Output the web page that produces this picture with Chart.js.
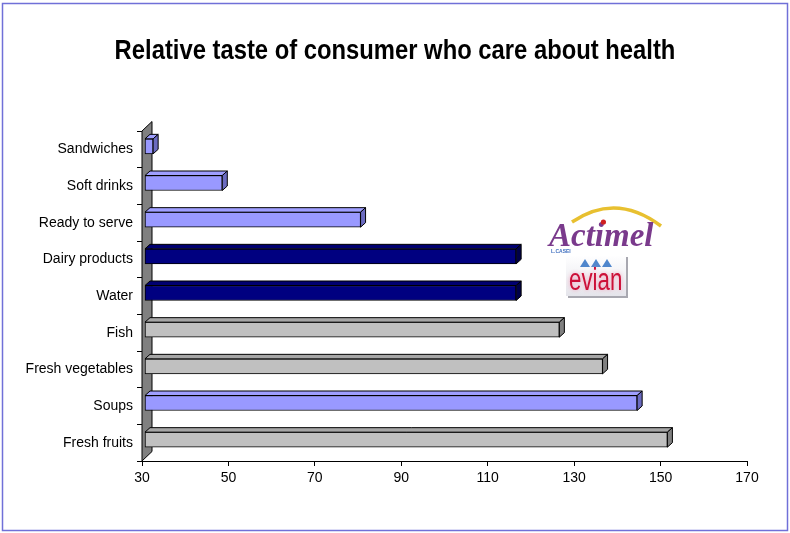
<!DOCTYPE html>
<html>
<head>
<meta charset="utf-8">
<script src="https://cdn.jsdelivr.net/npm/chart.js@4.4.0/dist/chart.umd.min.js"></script>
<style>
  html, body { margin: 0; padding: 0; background: #fff; }
  #wrap { position: relative; width: 790px; height: 533px; }
</style>
</head>
<body>
<div id="wrap"><canvas id="grafico" width="790" height="533"></canvas></div>
<script>
// Datos del gráfico
const titulo = 'Relative taste of consumer who care about health';
const categorias = ['Sandwiches', 'Soft drinks', 'Ready to serve', 'Dairy products', 'Water', 'Fish', 'Fresh vegetables', 'Soups', 'Fresh fruits'];
const valores = [32, 48, 80, 116, 116, 126, 136, 144, 151];
const coloresBarra = ['#9999FF', '#9999FF', '#9999FF', '#000080', '#000080', '#C0C0C0', '#C0C0C0', '#9999FF', '#C0C0C0'];
const ejeMin = 30;
const ejeMax = 170;
const paso = 20;

const fuente = "'Liberation Sans', Arial, sans-serif";

// Caras superior y lateral de cada color (efecto 3D)
const sombras = {
    '#9999FF': { arriba: '#9f9fff', lado: '#6b6bc0' },
    '#000080': { arriba: '#000070', lado: '#000048' },
    '#C0C0C0': { arriba: '#a6a6a6', lado: '#808080' }
};

const prof = { dx: 5, dy: 4.5 };      // profundidad de la barra
const frente = { dx: 2.5, dy: -3 };   // desplazamiento del plano de las barras
const pared = { dx: 10, dy: 9.5 };    // profundidad de la pared

const plugin3D = {
    id: 'barras3d',
    beforeDatasetsDraw(chart) {
        const { ctx, chartArea } = chart;
        // pared gris del eje de categorías
        ctx.save();
        ctx.beginPath();
        ctx.moveTo(chartArea.left, chartArea.top);
        ctx.lineTo(chartArea.left + pared.dx, chartArea.top - pared.dy);
        ctx.lineTo(chartArea.left + pared.dx, chartArea.bottom - pared.dy);
        ctx.lineTo(chartArea.left, chartArea.bottom);
        ctx.closePath();
        ctx.fillStyle = '#808080';
        ctx.fill();
        ctx.strokeStyle = '#000';
        ctx.lineWidth = 1;
        ctx.stroke();
        ctx.restore();

        ctx.save();
        ctx.translate(frente.dx, frente.dy);
    },
    afterDatasetsDraw(chart) {
        const { ctx } = chart;
        const meta = chart.getDatasetMeta(0);
        meta.data.forEach((bar, i) => {
            const x0 = bar.base, x1 = bar.x;
            const yA = bar.y - bar.height / 2, yB = bar.y + bar.height / 2;
            const col = sombras[coloresBarra[i]];
            ctx.lineWidth = 1;
            ctx.strokeStyle = '#000';
            // cara superior
            ctx.beginPath();
            ctx.moveTo(x0, yA);
            ctx.lineTo(x0 + prof.dx, yA - prof.dy);
            ctx.lineTo(x1 + prof.dx, yA - prof.dy);
            ctx.lineTo(x1, yA);
            ctx.closePath();
            ctx.fillStyle = col.arriba;
            ctx.fill();
            ctx.stroke();
            // cara lateral
            ctx.beginPath();
            ctx.moveTo(x1, yA);
            ctx.lineTo(x1 + prof.dx, yA - prof.dy);
            ctx.lineTo(x1 + prof.dx, yB - prof.dy);
            ctx.lineTo(x1, yB);
            ctx.closePath();
            ctx.fillStyle = col.lado;
            ctx.fill();
            ctx.stroke();
        });
        ctx.restore();
    }
};

// Título, logos de marcas y borde exterior
const pluginDecoracion = {
    id: 'decoracion',
    afterDraw(chart) {
        const { ctx } = chart;
        ctx.save();
        ctx.textBaseline = 'alphabetic';

        // título (letra estrecha)
        ctx.save();
        ctx.translate(395, 59);
        ctx.scale(0.85, 1);
        ctx.font = "bold 28px " + fuente;
        ctx.fillStyle = '#000';
        ctx.textAlign = 'center';
        ctx.fillText(titulo, 0, 0);
        ctx.restore();

        // Actimel
        ctx.beginPath();
        ctx.moveTo(572, 222);
        ctx.quadraticCurveTo(616, 192, 661, 226);
        ctx.lineWidth = 3.5;
        ctx.strokeStyle = '#e8c030';
        ctx.stroke();
        ctx.font = "italic bold 33px 'Liberation Serif', 'DejaVu Serif', serif";
        ctx.fillStyle = '#7a3a8c';
        ctx.fillText('Actimel', 549, 246);
        const xi = 549 + ctx.measureText('Act').width + ctx.measureText('i').width / 2 + 4;
        ctx.beginPath();
        ctx.arc(xi, 222, 2.6, 0, Math.PI * 2);
        ctx.fillStyle = '#d02020';
        ctx.fill();
        ctx.font = "bold 5px 'Liberation Sans', sans-serif";
        ctx.fillStyle = '#4070c0';
        ctx.fillText('L.CASEI', 551, 253);

        // evian
        const g = ctx.createLinearGradient(566, 255, 566, 297);
        g.addColorStop(0, '#ffffff');
        g.addColorStop(1, '#e4e4ea');
        ctx.fillStyle = '#a8a8b0';
        ctx.fillRect(568, 257, 60, 41);
        ctx.fillStyle = g;
        ctx.fillRect(566, 255, 60, 41);
        ctx.fillStyle = '#4f86cc';
        [[585, 267], [596, 267], [607, 267]].forEach(([x, y]) => {
            ctx.beginPath();
            ctx.moveTo(x - 5, y);
            ctx.lineTo(x, y - 8);
            ctx.lineTo(x + 5, y);
            ctx.closePath();
            ctx.fill();
        });
        ctx.save();
        ctx.translate(569, 290);
        ctx.scale(0.72, 1);
        ctx.shadowColor = 'rgba(240,150,180,0.9)';
        ctx.shadowBlur = 4;
        ctx.font = "31px 'Liberation Sans', sans-serif";
        ctx.fillStyle = '#cc1038';
        ctx.fillText('evian', 0, 0);
        ctx.restore();

        // borde del gráfico
        ctx.lineWidth = 1.5;
        ctx.strokeStyle = '#7070d8';
        ctx.strokeRect(2.5, 3.5, 785, 527);
        ctx.restore();
    }
};

const ctx = document.getElementById('grafico').getContext('2d');
new Chart(ctx, {
    type: 'bar',
    data: {
        labels: categorias,
        datasets: [{
            label: 'Relative taste',
            data: valores,
            base: ejeMin,
            clip: false,
            backgroundColor: coloresBarra,
            borderColor: '#000',
            borderWidth: 1,
            borderSkipped: false,
            barThickness: 15
        }]
    },
    options: {
        indexAxis: 'y',
        responsive: false,
        animation: false,
        layout: { padding: { left: 0, right: 43, top: 131, bottom: 0 } },
        plugins: {
            legend: { display: false },
            tooltip: { enabled: false },
            title: { display: false }
        },
        scales: {
            x: {
                min: ejeMin,
                max: ejeMax,
                afterFit(scale) { scale.height = 72; },
                ticks: {
                    stepSize: paso,
                    color: '#000',
                    padding: 4,
                    font: { family: fuente, size: 14 }
                },
                grid: { drawOnChartArea: false, drawTicks: true, tickLength: 5, color: '#000' },
                border: { display: true, color: '#000', width: 1 }
            },
            y: {
                afterFit(scale) { scale.width = 142; },
                ticks: {
                    color: '#000',
                    padding: 4,
                    font: { family: fuente, size: 14 }
                },
                grid: { drawOnChartArea: false, drawTicks: true, tickLength: 5, color: '#000', offset: true },
                border: { display: false }
            }
        }
    },
    plugins: [plugin3D, pluginDecoracion]
});
</script>
</body>
</html>
